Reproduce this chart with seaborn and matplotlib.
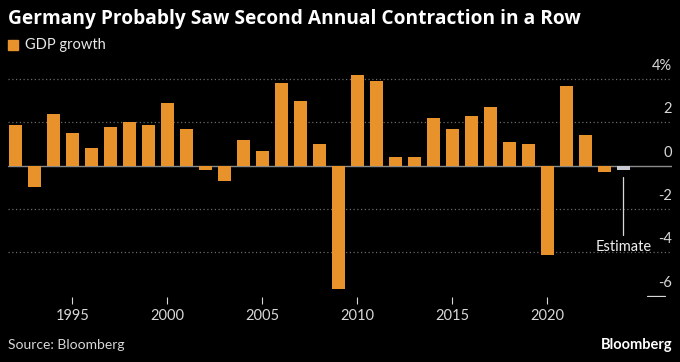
import matplotlib
matplotlib.use("Agg")
import matplotlib.pyplot as plt
import matplotlib.transforms as mtransforms
import seaborn as sns
import pandas as pd

# --- Data ---
years = list(range(1992, 2025))
growth = [1.9, -1.0, 2.4, 1.5, 0.8, 1.8, 2.0, 1.9, 2.9, 1.7, -0.2, -0.7,
          1.2, 0.7, 3.8, 3.0, 1.0, -5.7, 4.2, 3.9, 0.4, 0.4, 2.2, 1.7,
          2.3, 2.7, 1.1, 1.0, -4.1, 3.7, 1.4, -0.3, -0.2]
kind = ["actual"] * (len(years) - 1) + ["estimate"]
y_ticks = [4, 2, 0, -2, -4, -6]
y_labels = ["4%", "2", "0", "-2", "-4", "-6"]
x_ticks = [1995, 2000, 2005, 2010, 2015, 2020]

df = pd.DataFrame({"year": years, "growth": growth, "kind": kind})

ORANGE = "#E8922C"
EST = "#C8CAD4"
BG = "#000000"

sns.set_theme(style="dark")
plt.rcParams["font.family"] = ["Lato", "DejaVu Sans"]

fig = plt.figure(figsize=(6.8, 3.62), dpi=100, facecolor=BG)
ax = fig.add_axes([8 / 680, 1 - 297 / 362, 664 / 680, 237 / 362])
ax.set_facecolor(BG)

# gridlines
for t in y_ticks[:-1]:
    if t == 0:
        continue
    ax.axhline(t, color="#6a6a6a", lw=0.9, ls=(0, (1, 2)), zorder=0)
ax.axhline(0, color="#8a8a8a", lw=1.0, zorder=1)

sns.barplot(data=df, x="year", y="growth", hue="kind",
            palette={"actual": ORANGE, "estimate": EST},
            native_scale=True, dodge=False, width=0.7, legend=False,
            saturation=1, linewidth=0, ax=ax, zorder=2)

ax.set_xlim(1991.62, 2026.56)
ax.set_ylim(-6.06, 4.88)

# right-side labels sitting above the gridlines
trans = mtransforms.blended_transform_factory(ax.transAxes, ax.transData)
for t, lab in zip(y_ticks, y_labels):
    ax.text(1.0, t + 0.28, lab, transform=trans, ha="right", va="bottom",
            color="#d8d8d8", fontsize=10.5)
ax.plot([0.963, 0.99], [-6.0, -6.0], transform=trans, color="#d8d8d8", lw=0.9)

ax.set_yticks([])
ax.set_xticks(x_ticks)
ax.set_xticklabels([str(x) for x in x_ticks])
ax.tick_params(axis="x", colors="#d8d8d8", length=5, width=0.8, labelsize=10.5,
               pad=4, bottom=True, direction="out")
ax.set_xlabel("")
ax.set_ylabel("")
for s in ax.spines.values():
    s.set_visible(False)

# estimate annotation
ax.plot([2024, 2024], [-0.52, -3.2], color="#d8d8d8", lw=0.9)
ax.text(2024, -3.75, "Estimate", ha="center", va="center", color="#f0f0f0",
        fontsize=10.5)

# titles and footers
fig.text(8 / 680, 1 - 19 / 362, "Germany Probably Saw Second Annual Contraction in a Row",
         color="white", fontsize=13.8, fontweight="bold", ha="left", va="center",
         family=["Open Sans", "DejaVu Sans"])
fig.patches.append(plt.Rectangle((8 / 680, 1 - 50 / 362), 10 / 680, 10 / 362,
                                 transform=fig.transFigure, color=ORANGE))
fig.text(25 / 680, 1 - 45 / 362, "GDP growth", color="#e8e8e8", fontsize=10.5,
         ha="left", va="center")
fig.text(8 / 680, 1 - 345 / 362, "Source: Bloomberg", color="#d8d8d8",
         fontsize=10, ha="left", va="center")
fig.text(672 / 680, 1 - 345 / 362, "Bloomberg", color="white", fontsize=10.5,
         fontweight="bold", ha="right", va="center")

fig.savefig("out.png", dpi=100, facecolor=BG)
